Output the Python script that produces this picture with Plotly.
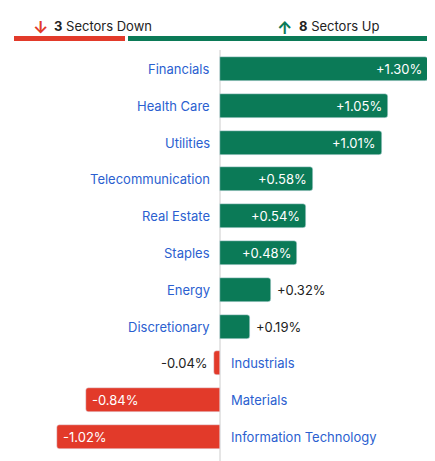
import plotly.graph_objects as go

categories = ["Financials", "Health Care", "Utilities", "Telecommunication", "Real Estate",
              "Staples", "Energy", "Discretionary", "Industrials", "Materials", "Information Technology"]
values = [1.30, 1.05, 1.01, 0.58, 0.54, 0.48, 0.32, 0.19, -0.04, -0.84, -1.02]
inside = [True, True, True, True, True, True, False, False, False, True, True]
down_count, up_count = 3, 8

GREEN = "#0b7a57"
RED = "#e23a2a"
BLUE = "#2b5fd0"
FONT = "Inter, Roboto, sans-serif"

O = 8  # page body margin offset
W, H = 435 - O, 461 - O

idx = list(range(len(categories)))
colors = [GREEN if v >= 0 else RED for v in values]

fig = go.Figure(go.Bar(x=values, y=idx, orientation="h", marker=dict(color=colors, cornerradius=3),
                       width=0.65, hoverinfo="skip"))

ann = []
for i, (c, v, ins) in enumerate(zip(categories, values, inside)):
    pos = v >= 0
    ann.append(dict(x=0, y=i, xref="x", yref="y", text=c, showarrow=False,
                    xanchor="right" if pos else "left", xshift=-8 if pos else 9,
                    font=dict(color=BLUE, size=13, family=FONT)))
    txt = f"{v:+.2f}%"
    if ins:
        ann.append(dict(x=v, y=i, xref="x", yref="y", text=txt, showarrow=False,
                        xanchor="right" if pos else "left", xshift=-4 if pos else 4,
                        font=dict(color="white", size=13, family=FONT)))
    else:
        ann.append(dict(x=v, y=i, xref="x", yref="y", text=txt, showarrow=False,
                        xanchor="left" if pos else "right", xshift=4 if pos else -4,
                        font=dict(color="#222", size=13, family=FONT)))

def px(p):
    return (p - O) / W

def py(p):
    return 1 - (p - O) / H

ann += [
    dict(x=px(40), y=py(16), xref="paper", yref="paper", text="<b>↓</b>", showarrow=False,
         font=dict(color=RED, size=17, family=FONT), xanchor="center"),
    dict(x=px(52), y=py(16), xref="paper", yref="paper", text=f"<b>{down_count}</b> Sectors Down",
         showarrow=False, font=dict(color="#222", size=13, family=FONT), xanchor="left"),
    dict(x=px(284), y=py(16), xref="paper", yref="paper", text="<b>↑</b>", showarrow=False,
         font=dict(color=GREEN, size=17, family=FONT), xanchor="center"),
    dict(x=px(297), y=py(16), xref="paper", yref="paper", text=f"<b>{up_count}</b> Sectors Up",
         showarrow=False, font=dict(color="#222", size=13, family=FONT), xanchor="left"),
]

shapes = [
    dict(type="rect", xref="paper", yref="paper", x0=px(14), x1=px(125), y0=py(41), y1=py(36),
         fillcolor=RED, line_width=0),
    dict(type="rect", xref="paper", yref="paper", x0=px(128), x1=px(428), y0=py(41), y1=py(36),
         fillcolor=GREEN, line_width=0),
    dict(type="line", xref="x", yref="paper", x0=0, x1=0, y0=0, y1=py(50),
         line=dict(color="#cccccc", width=1), layer="below"),
]

pxu = 160.0
z = 220 - O
c0 = 69 - O
fig.update_layout(
    width=W, height=H, margin=dict(l=0, r=0, t=0, b=0),
    paper_bgcolor="white", plot_bgcolor="white", showlegend=False,
    xaxis=dict(range=[-z/pxu, (W - z)/pxu], visible=False, fixedrange=True),
    yaxis=dict(range=[(H - c0)/36.8, -c0/36.8], visible=False),
    annotations=ann, shapes=shapes, bargap=0,
)
fig.write_html("out.html")
